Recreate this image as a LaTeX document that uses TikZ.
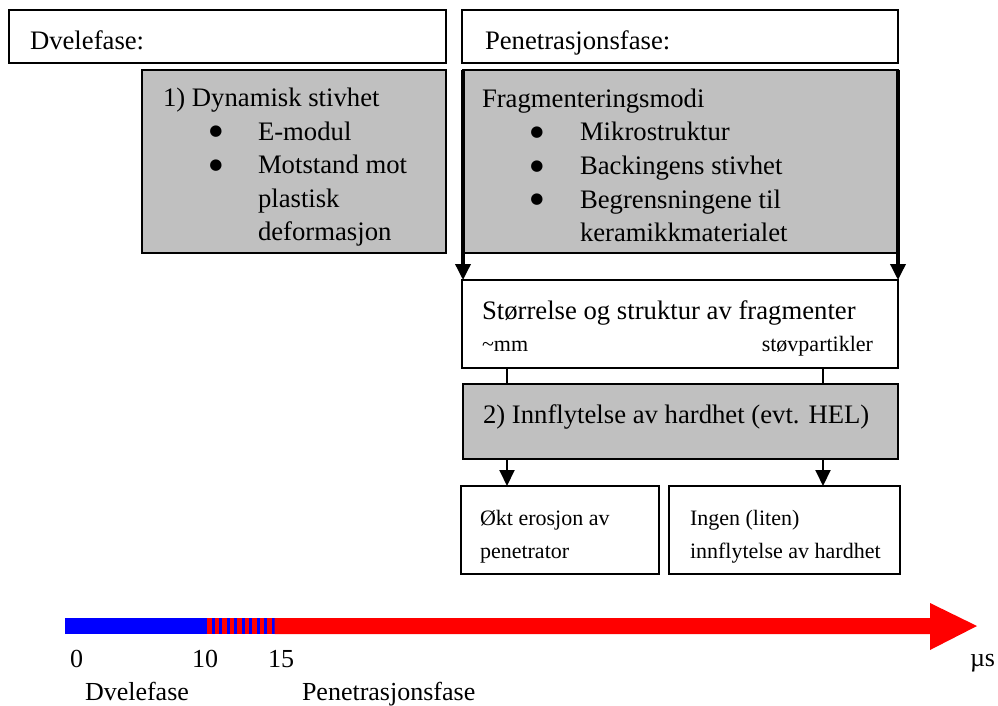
\documentclass[tikz,border=0pt]{standalone}
\usepackage{fontspec}
\setmainfont{Liberation Serif}
\newfontfamily\dejavubul{DejaVu Sans}
\usetikzlibrary{arrows.meta}
\definecolor{boxgray}{RGB}{192,192,192}
\begin{document}
\begin{tikzpicture}[x=1pt,y=-1pt,
  box/.style={draw=black, line width=2pt, inner sep=0pt, outer sep=0pt, anchor=north west},
  wbox/.style={box, fill=white},
  gbox/.style={box, fill=boxgray},
  txt/.style={inner sep=0pt, outer sep=0pt, anchor=base west, font=\fontsize{26.7}{32}\selectfont},
  stxt/.style={inner sep=0pt, outer sep=0pt, anchor=base west, font=\fontsize{22}{27}\selectfont},
  bul/.style={inner sep=0pt, outer sep=0pt, anchor=base, font=\dejavubul\fontsize{15}{17}\selectfont},
  axtxt/.style={inner sep=0pt, outer sep=0pt, anchor=base west, font=\fontsize{26}{31}\selectfont},
  conn/.style={line width=2pt},
  arr/.style={-{Triangle[length=16pt,width=15pt]}, line width=2pt}]
\useasboundingbox (0,0) rectangle (998,706);
\fill[white] (0,0) rectangle (998,706);

% boxes
\node[wbox, minimum width=437pt, minimum height=53pt] (dvel) at (9,10) {};
\node[wbox, minimum width=436pt, minimum height=53pt] (pen) at (462,10) {};
\node[gbox, minimum width=304pt, minimum height=183pt] (dyn) at (142,70) {};
\node[gbox, minimum width=435pt, minimum height=183pt] (frag) at (463,70) {};
\node[wbox, minimum width=436pt, minimum height=88pt] (size) at (462,280) {};
\node[gbox, minimum width=435pt, minimum height=75pt] (inf) at (463,384) {};
\node[wbox, minimum width=198pt, minimum height=88pt] (okt) at (461,486) {};
\node[wbox, minimum width=231pt, minimum height=88pt] (ingen) at (669,486) {};

% texts
\node[txt] (tdvel) at (30,50) {Dvelefase:};
\node[txt] (tpen) at (485,50) {Penetrasjonsfase:};

\node[txt] (d1) at (163,107) {1) Dynamisk stivhet};
\node[bul] (db1) at (216,135.5) {●};
\node[txt] (d2) at (258,140) {E-modul};
\node[bul] (db2) at (216,169) {●};
\node[txt] (d3) at (258,173.5) {Motstand mot};
\node[txt] (d4) at (258,207) {plastisk};
\node[txt] (d5) at (258,240) {deformasjon};

\node[txt] (f1) at (482,108) {Fragmenteringsmodi};
\node[bul] (fb1) at (537,136.5) {●};
\node[txt] (f2) at (580,141) {Mikrostruktur};
\node[bul] (fb2) at (537,170) {●};
\node[txt] (f3) at (580,174.5) {Backingens stivhet};
\node[bul] (fb3) at (537,203.5) {●};
\node[txt] (f4) at (580,208) {Begrensningene til};
\node[txt] (f5) at (580,241) {keramikkmaterialet};

\node[txt] (s1) at (482,319) {Størrelse og struktur av fragmenter};
\node[stxt] (s2) at (482,351) {\textasciitilde mm};
\node[stxt, anchor=base east] (s3) at (873,351) {støvpartikler};

\node[txt] (i1) at (483,423) {2) Innflytelse av hardhet (evt. HEL)};

\node[stxt] (o1) at (480,525) {Økt erosjon av};
\node[stxt] (o2) at (480,558) {penetrator};
\node[stxt] (g1) at (690,525) {Ingen (liten)};
\node[stxt] (g2) at (690,558) {innflytelse av hardhet};

% connectors
\coordinate (xa) at (507,0);
\coordinate (xb) at (823,0);
\draw[arr, line width=3.5pt] (frag.north west) -- (frag.north west |- size.north);
\draw[arr, line width=3.5pt] (frag.north east) -- (frag.north east |- size.north);
\draw[conn] (size.south -| xa) -- (inf.north -| xa);
\draw[conn] (size.south -| xb) -- (inf.north -| xb);
\draw[arr] (inf.south -| xa) -- (okt.north -| xa);
\draw[arr] (inf.south -| xb) -- (ingen.north -| xb);

% timeline
\fill[blue] (65,618) rectangle (207,634);
\foreach \i in {0,...,8} {
  \fill[red] (207+7.5*\i,618) rectangle (211.5+7.5*\i,634);
  \fill[blue] (211.5+7.5*\i,618) rectangle (214.5+7.5*\i,634);
}
\fill[red] (274.5,618) -- (930,618) -- (930,603) -- (977,626) -- (930,650) -- (930,634) -- (274.5,634) -- cycle;

\node[axtxt] (l0) at (70,667) {0};
\node[axtxt] (l10) at (192,667) {10};
\node[axtxt] (l15) at (268,667) {15};
\node[axtxt] (lmu) at (970,666) {µs};
\node[axtxt] (ldv) at (85,700) {Dvelefase};
\node[axtxt] (lpe) at (302,700) {Penetrasjonsfase};
\end{tikzpicture}
\end{document}
